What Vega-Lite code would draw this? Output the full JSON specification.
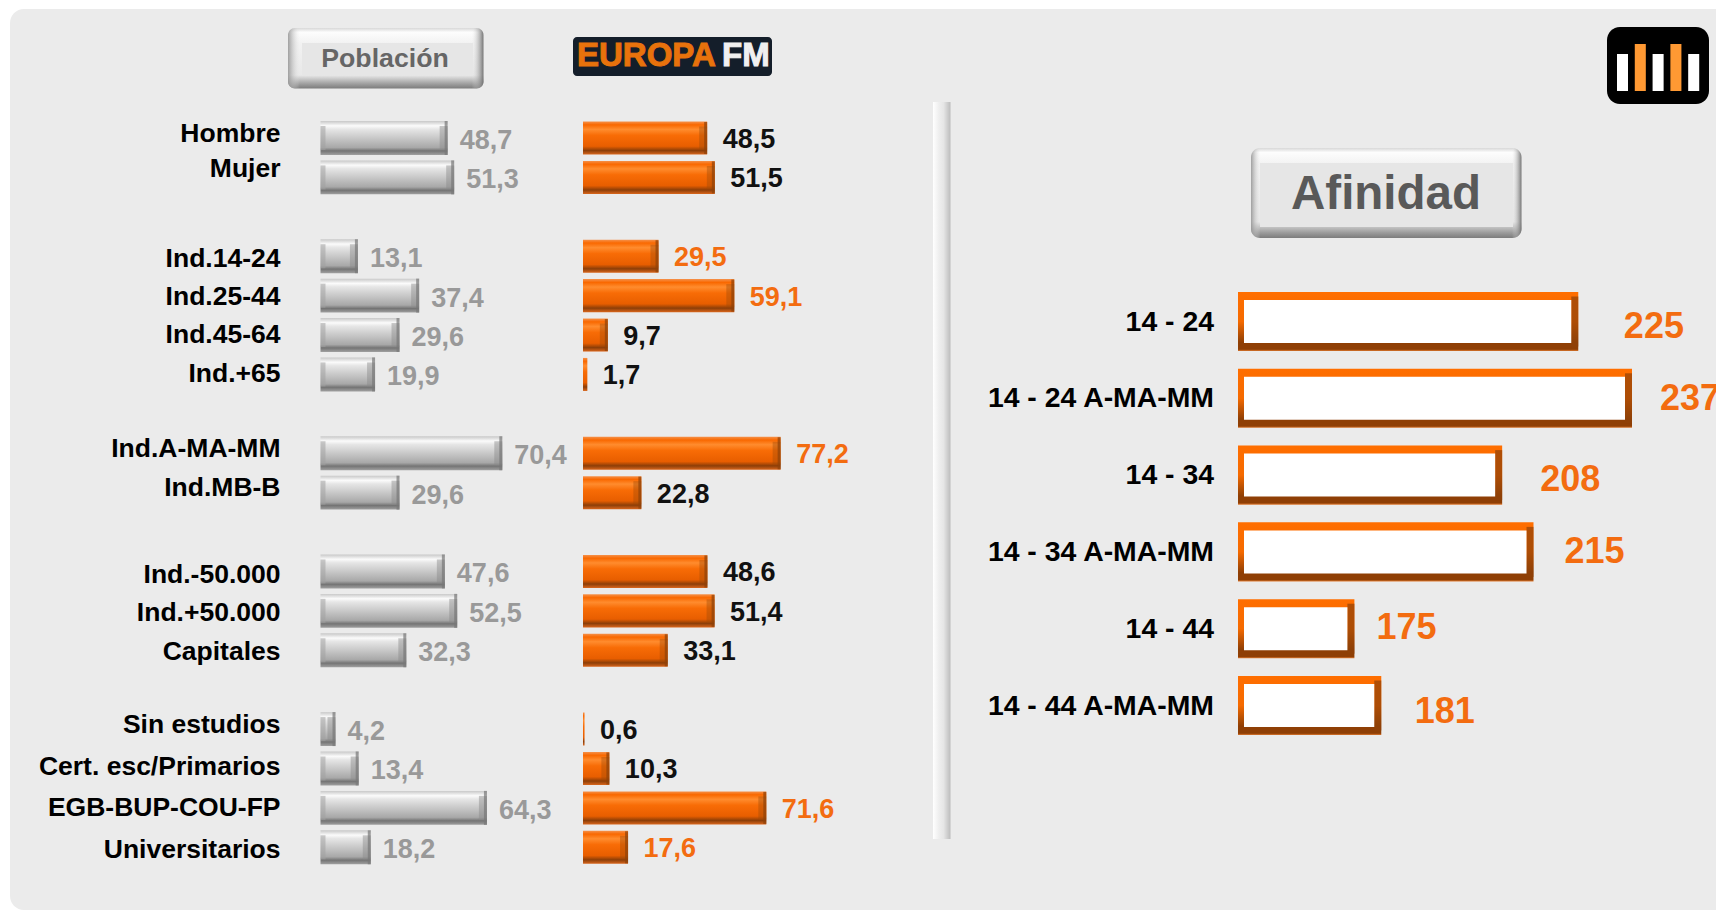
{
"$schema":"https://vega.github.io/schema/vega-lite/v6.json",
"width":1730,"height":901,
"autosize":{"type":"none"},
"padding":{"left":10,"top":9,"right":0,"bottom":0},
"background":"#ffffff",
"view":{"fill":"#ebebeb","stroke":null,"cornerRadius":14},
"config":{"font":"Liberation Sans","text":{"font":"Liberation Sans","fontWeight":"bold"}},
"datasets":{
"perfil":[
{"grupo":"Hombre","poblacion":48.7,"europafm":48.5},
{"grupo":"Mujer","poblacion":51.3,"europafm":51.5},
{"grupo":"Ind.14-24","poblacion":13.1,"europafm":29.5},
{"grupo":"Ind.25-44","poblacion":37.4,"europafm":59.1},
{"grupo":"Ind.45-64","poblacion":29.6,"europafm":9.7},
{"grupo":"Ind.+65","poblacion":19.9,"europafm":1.7},
{"grupo":"Ind.A-MA-MM","poblacion":70.4,"europafm":77.2},
{"grupo":"Ind.MB-B","poblacion":29.6,"europafm":22.8},
{"grupo":"Ind.-50.000","poblacion":47.6,"europafm":48.6},
{"grupo":"Ind.+50.000","poblacion":52.5,"europafm":51.4},
{"grupo":"Capitales","poblacion":32.3,"europafm":33.1},
{"grupo":"Sin estudios","poblacion":4.2,"europafm":0.6},
{"grupo":"Cert. esc/Primarios","poblacion":13.4,"europafm":10.3},
{"grupo":"EGB-BUP-COU-FP","poblacion":64.3,"europafm":71.6},
{"grupo":"Universitarios","poblacion":18.2,"europafm":17.6}
],
"afinidad":[
{"tramo":"14 - 24","indice":225},
{"tramo":"14 - 24 A-MA-MM","indice":237},
{"tramo":"14 - 34","indice":208},
{"tramo":"14 - 34 A-MA-MM","indice":215},
{"tramo":"14 - 44","indice":175},
{"tramo":"14 - 44 A-MA-MM","indice":181}
],
"icono":[
{"barra":"a","alto":37,"tono":"blanco"},
{"barra":"b","alto":47,"tono":"naranja"},
{"barra":"c","alto":37,"tono":"blanco"},
{"barra":"d","alto":47,"tono":"naranja"},
{"barra":"e","alto":37,"tono":"blanco"}
]
},
"resolve":{"scale":{"x":"independent","y":"independent","color":"independent"}},
"layer":[
{
"data":{"values":[{"id":"cromo"}]},
"layer":[
{"mark":{"type":"rect","fill":{"gradient":"linear","x1":0,"x2":1,"y1":0,"y2":0,"stops":[{"offset":0,"color":"#ffffff"},{"offset":0.35,"color":"#eeeeee"},{"offset":0.6,"color":"#e6e6e6"},{"offset":1,"color":"#bcbcbc"}]}},
"encoding":{"x":{"datum":923,"axis":null,"scale":{"domain":[0,1730],"range":[0,1730],"nice":false,"zero":false}},"x2":{"datum":940.5},"y":{"datum":93,"axis":null,"scale":{"domain":[0,901],"range":[0,901],"nice":false,"zero":false}},"y2":{"datum":830}}},
{"mark":{"type":"rect","cornerRadius":7,"fill":{"gradient":"linear","x1":0,"x2":0,"y1":0,"y2":1,"stops":[{"offset":0,"color":"#d8d8d8"},{"offset":0.07,"color":"#fdfdfd"},{"offset":0.25,"color":"#f2f2f2"},{"offset":0.78,"color":"#e8e8e8"},{"offset":0.93,"color":"#9c9c9c"},{"offset":1,"color":"#7c7c7c"}]}},
"encoding":{"x":{"datum":278},"x2":{"datum":473.5},"y":{"datum":19},"y2":{"datum":79.5}}},
{"mark":{"type":"rect","cornerRadius":7,"fill":{"gradient":"linear","x1":0,"x2":1,"y1":0,"y2":0,"stops":[{"offset":0,"color":"rgba(150,150,150,0.9)"},{"offset":0.06,"color":"rgba(230,230,230,0)"},{"offset":0.94,"color":"rgba(230,230,230,0)"},{"offset":1,"color":"rgba(110,110,110,0.95)"}]}},
"encoding":{"x":{"datum":278},"x2":{"datum":473.5},"y":{"datum":19},"y2":{"datum":79.5}}},
{"mark":{"type":"rect","fill":"#e6e6e6"},"encoding":{"x":{"datum":292},"x2":{"datum":463},"y":{"datum":34},"y2":{"datum":66}}},
{"mark":{"type":"text","text":"Población","fontSize":26.7,"color":"#666666","align":"center","baseline":"middle"},"encoding":{"x":{"datum":375},"y":{"datum":50}}},
{"mark":{"type":"rect","cornerRadius":4,"fill":"#141e2a"},"encoding":{"x":{"datum":563},"x2":{"datum":762},"y":{"datum":28},"y2":{"datum":67}}},
{"mark":{"type":"text","text":"EUROPA","fontSize":33,"color":"#e8720c","stroke":"#e8720c","strokeWidth":1,"align":"left","baseline":"middle"},"encoding":{"x":{"datum":567},"y":{"datum":47}}},
{"mark":{"type":"text","text":"FM","fontSize":33,"color":"#f0f0f0","stroke":"#f0f0f0","strokeWidth":1,"align":"left","baseline":"middle"},"encoding":{"x":{"datum":712},"y":{"datum":47}}},
{"mark":{"type":"rect","cornerRadius":9,"fill":{"gradient":"linear","x1":0,"x2":0,"y1":0,"y2":1,"stops":[{"offset":0,"color":"#d8d8d8"},{"offset":0.05,"color":"#fdfdfd"},{"offset":0.18,"color":"#f2f2f2"},{"offset":0.82,"color":"#e8e8e8"},{"offset":0.94,"color":"#9c9c9c"},{"offset":1,"color":"#7c7c7c"}]}},
"encoding":{"x":{"datum":1241},"x2":{"datum":1511.5},"y":{"datum":139},"y2":{"datum":229}}},
{"mark":{"type":"rect","cornerRadius":9,"fill":{"gradient":"linear","x1":0,"x2":1,"y1":0,"y2":0,"stops":[{"offset":0,"color":"rgba(150,150,150,0.9)"},{"offset":0.035,"color":"rgba(230,230,230,0)"},{"offset":0.965,"color":"rgba(230,230,230,0)"},{"offset":1,"color":"rgba(110,110,110,0.95)"}]}},
"encoding":{"x":{"datum":1241},"x2":{"datum":1511.5},"y":{"datum":139},"y2":{"datum":229}}},
{"mark":{"type":"rect","fill":"#e6e6e6"},"encoding":{"x":{"datum":1250},"x2":{"datum":1503},"y":{"datum":154},"y2":{"datum":218}}},
{"mark":{"type":"text","text":"Afinidad","fontSize":47.5,"color":"#595959","align":"center","baseline":"middle"},"encoding":{"x":{"datum":1376},"y":{"datum":186}}},
{"mark":{"type":"rect","cornerRadius":13,"fill":"#000000"},"encoding":{"x":{"datum":1597},"x2":{"datum":1699},"y":{"datum":18},"y2":{"datum":95}}}
]
},
{
"data":{"name":"icono"},
"mark":{"type":"rect"},
"encoding":{
"x":{"field":"barra","type":"nominal","axis":null,"scale":{"type":"band","domain":["a","b","c","d","e"],"range":[1603.6,1692.6],"paddingInner":0.38,"paddingOuter":0.19}},
"y":{"field":"alto","type":"quantitative","axis":null,"scale":{"domain":[0,47],"range":[82,35],"nice":false}},
"y2":{"datum":0},
"fill":{"field":"tono","type":"nominal","legend":null,"scale":{"domain":["blanco","naranja"],"range":["#ffffff","#ff9933"]}}
}
},
{
"data":{"name":"perfil"},
"transform":[{"calculate":"replace(format(datum.poblacion,'.1f'),'.',',')","as":"txt"}],
"encoding":{
"y":{"field":"grupo","type":"nominal","axis":null,"sort":null,"scale":{"type":"band","domain":["Hombre","Mujer"," 1","Ind.14-24","Ind.25-44","Ind.45-64","Ind.+65"," 2","Ind.A-MA-MM","Ind.MB-B"," 3","Ind.-50.000","Ind.+50.000","Capitales"," 4","Sin estudios","Cert. esc/Primarios","EGB-BUP-COU-FP","Universitarios"],"range":[109.3,858],"paddingInner":0.14,"paddingOuter":0.07}}
},
"layer":[
{"mark":{"type":"rect","fill":{"gradient":"linear","x1":0,"x2":0,"y1":0,"y2":1,"stops":[{"offset":0,"color":"#c8c8c8"},{"offset":0.14,"color":"#fbfbfb"},{"offset":0.24,"color":"#e6e6e6"},{"offset":0.78,"color":"#a8a8a8"},{"offset":0.88,"color":"#747474"},{"offset":1,"color":"#a0a0a0"}]}},
"encoding":{"x":{"field":"poblacion","type":"quantitative","axis":null,"scale":{"domain":[-1.75,100],"range":[310.5,566.9],"nice":false,"zero":false}},"x2":{"datum":-1.75}}},
{"mark":{"type":"tick","color":"#a0a0a0","opacity":0.55,"thickness":5,"size":24,"xOffset":2.5,"orient":"vertical"},
"encoding":{"x":{"datum":-1.75}}},
{"mark":{"type":"tick","color":"#8a8a8a","opacity":0.45,"thickness":8,"size":24,"xOffset":-4,"orient":"vertical"},
"encoding":{"x":{"field":"poblacion","type":"quantitative"}}},
{"mark":{"type":"tick","color":"#777777","thickness":3,"size":34,"xOffset":-1.5,"orient":"vertical"},
"encoding":{"x":{"field":"poblacion","type":"quantitative"}}},
{"mark":{"type":"text","fontSize":27,"color":"#999999","align":"left","baseline":"middle","dx":12,"dy":3},
"encoding":{"x":{"field":"poblacion","type":"quantitative"},"text":{"field":"txt"}}},
{"mark":{"type":"text","fontSize":26.5,"color":"#000000","align":"right","baseline":"middle","dx":-40,
"dy":{"expr":"{'Hombre':-4,'Mujer':-8,'Ind.14-24':3,'Ind.25-44':1,'Ind.45-64':0,'Ind.+65':0,'Ind.A-MA-MM':-4,'Ind.MB-B':-5,'Ind.-50.000':4,'Ind.+50.000':2,'Capitales':2,'Sin estudios':-4,'Cert. esc/Primarios':-1,'EGB-BUP-COU-FP':0,'Universitarios':3}[datum.grupo]"}},
"encoding":{"x":{"datum":-1.75},"text":{"field":"grupo"}}}
]
},
{
"data":{"name":"perfil"},
"transform":[{"calculate":"replace(format(datum.europafm,'.1f'),'.',',')","as":"txt"}],
"encoding":{
"y":{"field":"grupo","type":"nominal","axis":null,"sort":null,"scale":{"type":"band","domain":["Hombre","Mujer"," 1","Ind.14-24","Ind.25-44","Ind.45-64","Ind.+65"," 2","Ind.A-MA-MM","Ind.MB-B"," 3","Ind.-50.000","Ind.+50.000","Capitales"," 4","Sin estudios","Cert. esc/Primarios","EGB-BUP-COU-FP","Universitarios"],"range":[109.3,858],"paddingInner":0.162,"paddingOuter":0.081}},
"x":{"field":"europafm","type":"quantitative","axis":null,"scale":{"domain":[0,100],"range":[573,829],"nice":false}}
},
"layer":[
{"mark":{"type":"rect","fill":{"gradient":"linear","x1":0,"x2":0,"y1":0,"y2":1,"stops":[{"offset":0,"color":"#f5914a"},{"offset":0.1,"color":"#f96800"},{"offset":0.24,"color":"#ff8c2e"},{"offset":0.42,"color":"#f86c06"},{"offset":0.75,"color":"#e85e00"},{"offset":0.88,"color":"#8c3e08"},{"offset":1,"color":"#d9661c"}]}},
"encoding":{"x2":{"datum":0}}},
{"transform":[{"filter":"datum.europafm>=5"}],"mark":{"type":"tick","color":"#a04a08","opacity":0.4,"thickness":8,"size":23,"xOffset":-4,"orient":"vertical"},"encoding":{}},
{"transform":[{"filter":"datum.europafm>=5"}],"mark":{"type":"tick","color":"#8f4208","thickness":3,"size":32,"xOffset":-1.5,"orient":"vertical"},"encoding":{}},
{"mark":{"type":"text","fontSize":27,"align":"left","baseline":"middle","dx":15.5,"dy":2},
"encoding":{"text":{"field":"txt"},
"color":{"condition":{"test":"indexof(['Ind.14-24','Ind.25-44','Ind.A-MA-MM','EGB-BUP-COU-FP','Universitarios'],datum.grupo)>=0","value":"#f36c10"},"value":"#111111"}}}
]
},
{
"data":{"name":"afinidad"},
"encoding":{
"x":{"field":"indice","type":"quantitative","axis":null,"scale":{"domain":[149,237],"range":[1228,1622],"nice":false,"zero":false}}
},
"layer":[
{"layer":[
{"mark":{"type":"rect","fill":{"gradient":"linear","x1":0,"x2":0,"y1":0,"y2":1,"stops":[{"offset":0,"color":"#ff6e00"},{"offset":0.5,"color":"#f56a00"},{"offset":0.85,"color":"#8f3f05"},{"offset":0.97,"color":"#8f3f05"},{"offset":1,"color":"#e07a30"}]}},
"encoding":{"x2":{"datum":149}}},
{"mark":{"type":"tick","color":"#8f4208","thickness":7,"size":50,"xOffset":-3.5,"orient":"vertical"},"encoding":{}},
{"mark":{"type":"text","fontSize":28.4,"color":"#000000","align":"right","baseline":"middle","dx":-24},
"encoding":{"x":{"datum":149},"text":{"field":"tramo"}}},
{"mark":{"type":"text","fontSize":36,"color":"#f36c10","align":"left","baseline":"middle",
"dx":{"expr":"{'14 - 24':45.6,'14 - 24 A-MA-MM':28,'14 - 34':38,'14 - 34 A-MA-MM':31,'14 - 44':22,'14 - 44 A-MA-MM':33.5}[datum.tramo]"},
"dy":{"expr":"{'14 - 24':5,'14 - 24 A-MA-MM':1,'14 - 34':5,'14 - 34 A-MA-MM':0,'14 - 44':-1,'14 - 44 A-MA-MM':6}[datum.tramo]"}},
"encoding":{"text":{"field":"indice"}}}
],
"encoding":{"y":{"field":"tramo","type":"nominal","axis":null,"sort":null,"scale":{"type":"band","domain":["14 - 24","14 - 24 A-MA-MM","14 - 34","14 - 34 A-MA-MM","14 - 44","14 - 44 A-MA-MM"],"range":[274.1,734.9],"paddingInner":0.23,"paddingOuter":0.115}}}
},
{"mark":{"type":"rect","fill":"#ffffff","x2Offset":6,"xOffset":-7},
"encoding":{"x2":{"datum":149},"y":{"field":"tramo","type":"nominal","axis":null,"sort":null,"scale":{"type":"band","domain":["14 - 24","14 - 24 A-MA-MM","14 - 34","14 - 34 A-MA-MM","14 - 44","14 - 44 A-MA-MM"],"range":[274.1,734.9],"paddingInner":0.44,"paddingOuter":0.22}}}}
],
"resolve":{"scale":{"y":"independent"}}
}
]
}
